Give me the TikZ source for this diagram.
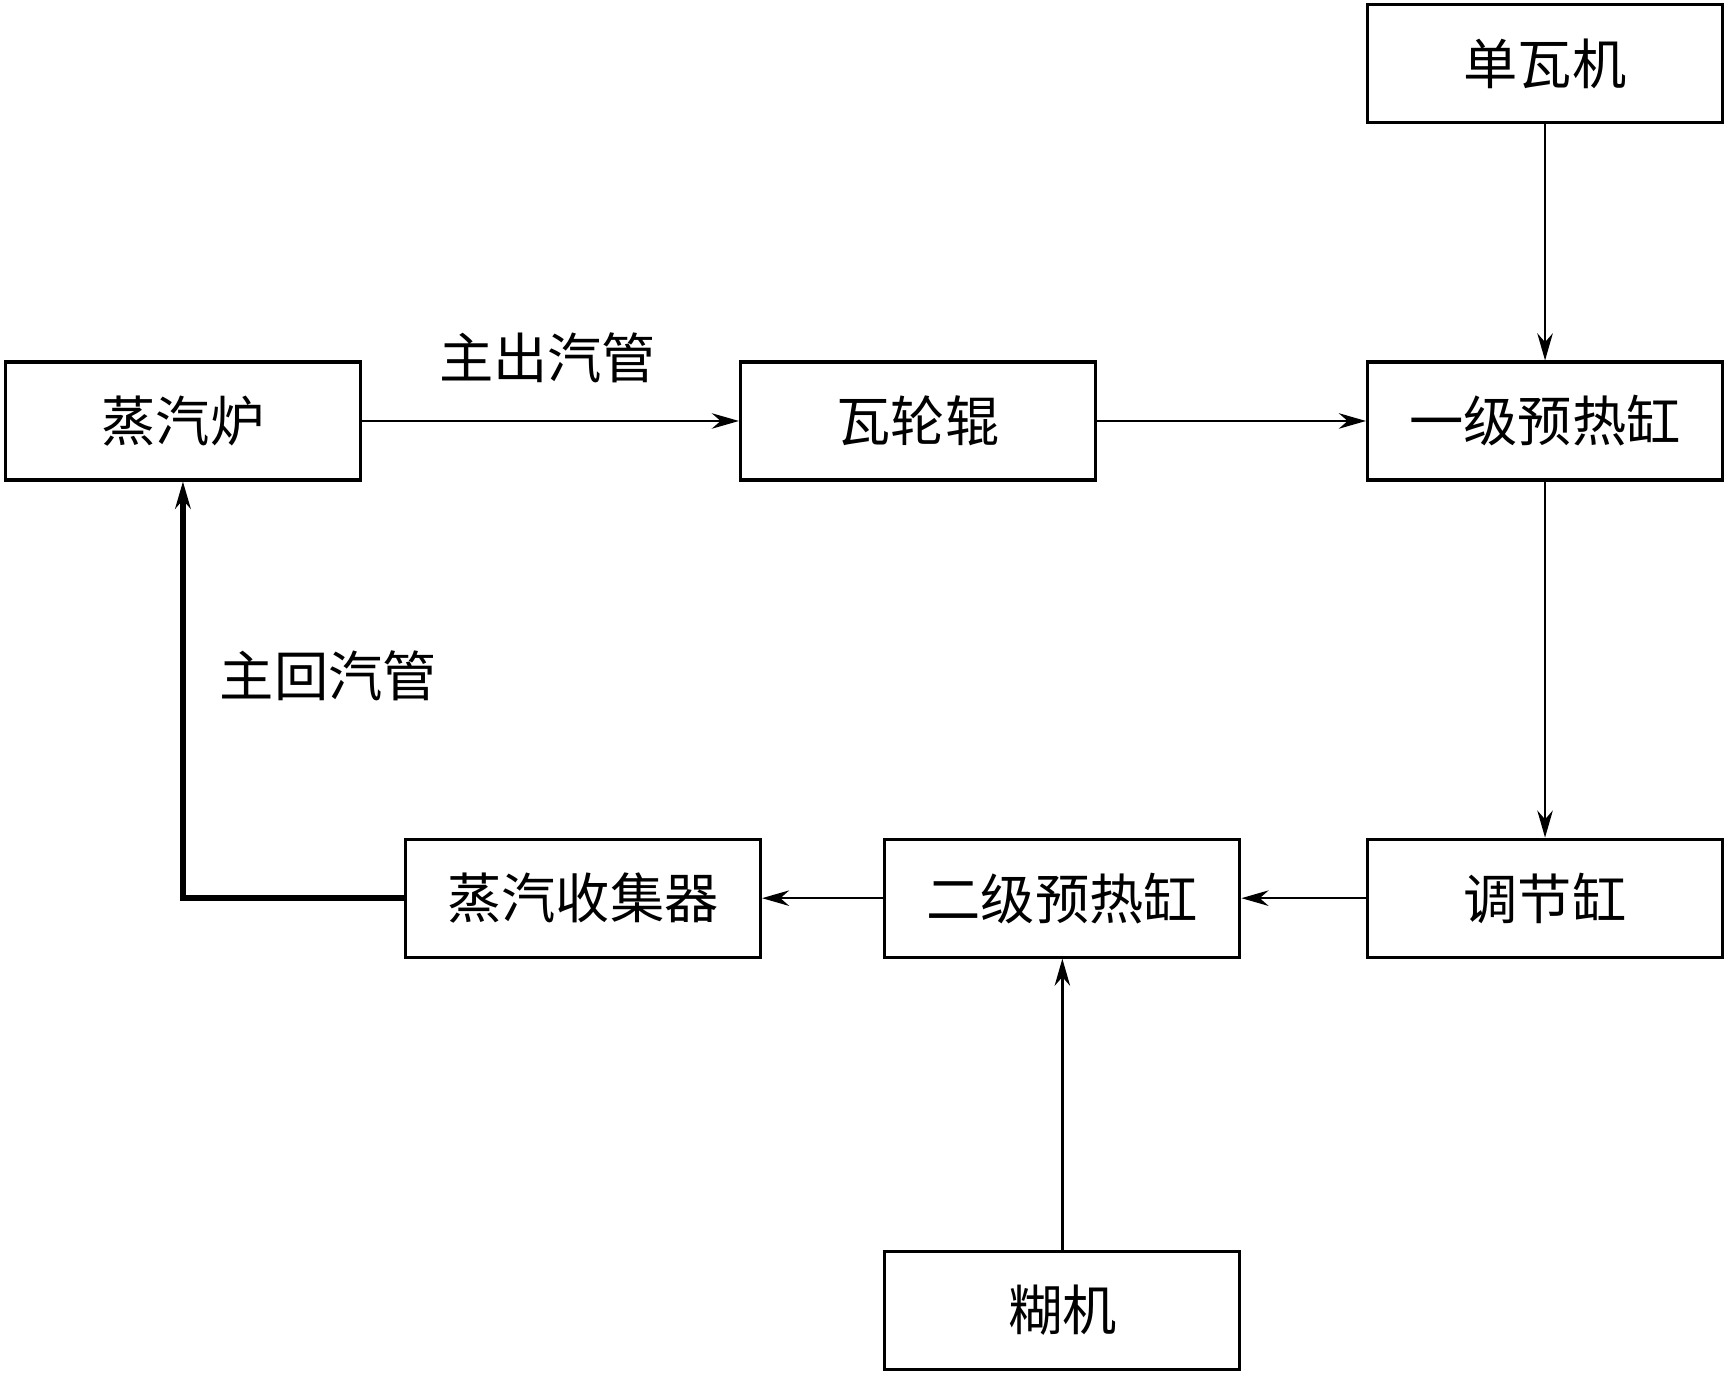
\documentclass[tikz,border=0pt]{standalone}
\usepackage{fontspec}
\setmainfont{Noto Sans CJK SC}
\usetikzlibrary{arrows.meta}
\tikzset{
	box/.style={draw, line width=0.8pt, minimum width=3.22cm, minimum height=1.07cm, inner sep=0pt, font=\fontsize{14}{16}\selectfont},
	flow/.style={-{Stealth[length=7pt,width=4pt]}, line width=0.6pt},
	lbl/.style={font=\fontsize{14}{16}\selectfont},
}
\begin{document}
\begin{tikzpicture}[x=0.01cm, y=-0.01cm]
	\useasboundingbox (0,0) rectangle (1568,1248);
	\node[box] (danwa) at (1402,58) {单瓦机};
	\node[box] (guolu) at (166,382) {蒸汽炉};
	\node[box] (walun) at (833,382) {瓦轮辊};
	\node[box] (yiji) at (1402,382) {一级预热缸};
	\node[box] (tiaojie) at (1402,815) {调节缸};
	\node[box] (erji) at (964,815) {二级预热缸};
	\node[box] (shouji) at (529,815) {蒸汽收集器};
	\node[box] (huji) at (964,1189) {糊机};
	\coordinate (corner) at (166,815);
	
	\node[lbl] (chuqi) at (497,325) {主出汽管};
	\node[lbl] (huiqi) at (298,613) {主回汽管};
	
	\draw[flow] (guolu) -- (walun);
	\draw[flow] (walun) -- (yiji);
	\draw[flow] (danwa) -- (yiji);
	\draw[flow] (yiji) -- (tiaojie);
	\draw[flow] (tiaojie) -- (erji);
	\draw[flow] (erji) -- (shouji);
	\draw[flow] (huji) -- (erji);
	\draw[flow, line width=1.4pt] (shouji.west) -- (corner) -- (guolu.south);
\end{tikzpicture}
\end{document}
